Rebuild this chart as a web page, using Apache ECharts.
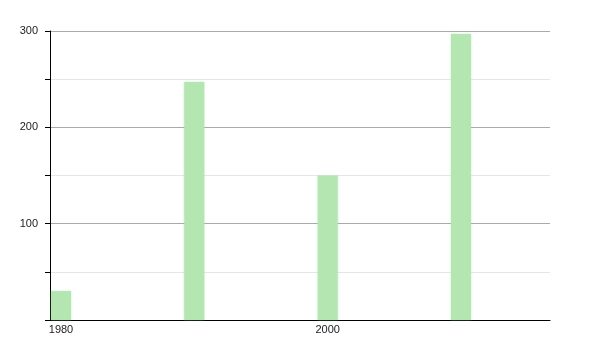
<!DOCTYPE html>
<html>
<head>
<meta charset="utf-8">
<script src="https://cdn.jsdelivr.net/npm/echarts@6/dist/echarts.min.js"></script>
<style>html,body{margin:0;padding:0;background:#fff}#c{width:600px;height:350px}</style>
</head>
<body>
<div id="c"></div>
<script>
const years = [1980, 1990, 2000, 2010];
const values = [30, 247, 150, 297];
const xTickLabels = [1980, 2000];
const yTickLabels = [100, 200, 300];

const chart = echarts.init(document.getElementById('c'), null, {renderer: 'canvas'});
chart.setOption({
  animation: false,
  backgroundColor: '#fff',
  grid: {left: 50, right: 50, top: 31, bottom: 30, containLabel: false},
  xAxis: {
    type: 'value',
    min: 1979.175,
    max: 2016.68,
    axisLine: {show: true, onZero: false, lineStyle: {color: '#000', width: 1}},
    axisTick: {show: false},
    splitLine: {show: false},
    axisLabel: {
      color: '#222', fontSize: 11, fontFamily: 'Liberation Sans, Arial', margin: 4,
      customValues: xTickLabels,
      formatter: v => String(Math.round(v))
    }
  },
  yAxis: {
    type: 'value',
    min: 0,
    max: 300,
    interval: 50,
    axisLine: {show: true, lineStyle: {color: '#000', width: 1}},
    axisTick: {show: true, length: 5, lineStyle: {color: '#000'}},
    splitLine: {show: true, lineStyle: {color: ['#aaaaaa', '#e6e6e6'], width: 1}},
    axisLabel: {
      color: '#222', fontSize: 11, fontFamily: 'Liberation Sans, Arial', margin: 12,
      formatter: v => yTickLabels.includes(v) ? String(v) : ''
    }
  },
  series: [{
    type: 'bar',
    data: years.map((y, i) => [y, values[i]]),
    barWidth: 20,
    itemStyle: {color: '#b3e6b1', shadowColor: 'rgba(150,220,150,0.5)', shadowBlur: 2}
  }]
});
</script>
</body>
</html>
